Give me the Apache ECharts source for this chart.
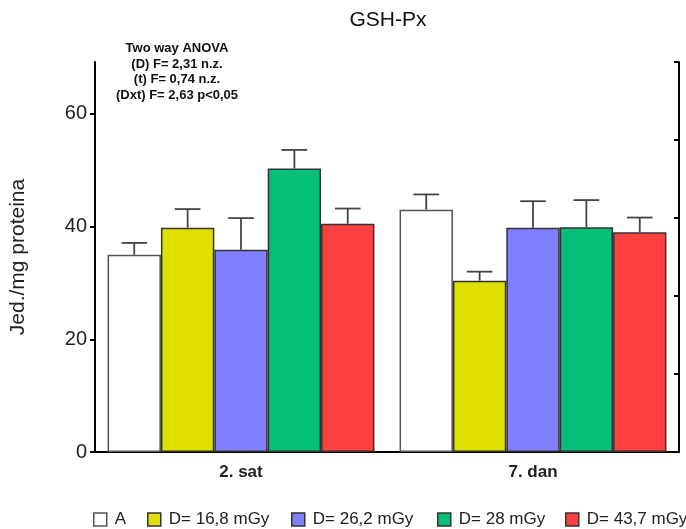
<!DOCTYPE html>
<html>
<head>
<meta charset="utf-8">
<script src="https://cdn.jsdelivr.net/npm/echarts@6/dist/echarts.min.js"></script>
<style>
  html, body { margin: 0; padding: 0; background: #fff; }
  #chart { width: 686px; height: 529px; }
</style>
</head>
<body>
<div id="chart"></div>
<script>
// Sampling times
const categories = ['2. sat', '7. dan'];

// Group names (control and irradiation doses)
const seriesNames = ['A', 'D= 16,8 mGy', 'D= 26,2 mGy', 'D= 28 mGy', 'D= 43,7 mGy'];

// GSH-Px activity, mean per group at each time point
const meanA    = [35.0, 43.0];
const mean168  = [39.8, 30.4];
const mean262  = [35.9, 39.8];
const mean28   = [50.3, 39.9];
const mean437  = [40.5, 39.0];

// Standard error (upper whisker length)
const semA     = [2.1, 2.7];
const sem168   = [3.3, 1.6];
const sem262   = [5.6, 4.7];
const sem28    = [3.3, 4.8];
const sem437   = [2.7, 2.6];

// Left axis tick labels
const yTicks = [0, 20, 40, 60];

const means = [meanA, mean168, mean262, mean28, mean437];
const sems  = [semA, sem168, sem262, sem28, sem437];
const fills = ['#ffffff', '#dfdf00', '#8080ff', '#05bf78', '#ff4040'];
const edges = ['#555555', '#333333', '#333333', '#333333', '#333333'];

const FONT = '"Liberation Sans", Arial, sans-serif';
const CAT_GAP = 0.086;   // fraction of a category band left empty
const YMAX = 69.2;

const barSeries = seriesNames.map((name, i) => ({
  name: name,
  type: 'bar',
  data: means[i],
  barGap: '0%',
  barCategoryGap: (CAT_GAP * 100) + '%',
  itemStyle: { color: fills[i], borderColor: edges[i], borderWidth: 1.5 },
  z: 2
}));

// Whiskers: one item per bar -> [category index, mean, sem, series index]
const errData = [];
means.forEach((arr, s) => arr.forEach((m, c) => errData.push([c, m, sems[s][c], s])));

const errSeries = {
  type: 'custom',
  name: 'sem',
  data: errData,
  z: 3,
  silent: true,
  encode: { x: 0, y: 1 },
  renderItem: function (params, api) {
    const c = api.value(0), m = api.value(1), e = api.value(2), s = api.value(3);
    const band = api.size([1, 0])[0];
    const bw = band * (1 - CAT_GAP) / seriesNames.length;
    const base = api.coord([c, m]);
    const top = api.coord([c, m + e]);
    const cx = base[0] + (s - (seriesNames.length - 1) / 2) * bw;
    const half = bw * 0.24;
    const style = { stroke: '#444444', lineWidth: 1.8, fill: null };
    return {
      type: 'group',
      children: [
        { type: 'line', shape: { x1: cx, y1: base[1], x2: cx, y2: top[1] }, style: style },
        { type: 'line', shape: { x1: cx - half, y1: top[1], x2: cx + half, y2: top[1] }, style: style }
      ]
    };
  }
};

// One legend block per group so each entry sits at its own place
const legendLeft = [93, 147, 291, 437, 565];
const legends = seriesNames.map((name, i) => ({
  data: [name],
  left: legendLeft[i],
  top: 511,
  padding: 0,
  itemWidth: 13,
  itemHeight: 13,
  icon: 'rect',
  itemStyle: { borderWidth: 1.5 },
  textStyle: { fontFamily: FONT, fontSize: 17, color: '#222', padding: [0, 0, 0, 3] }
}));

const chart = echarts.init(document.getElementById('chart'), null, { renderer: 'canvas' });

chart.setOption({
  animation: false,
  backgroundColor: '#ffffff',
  title: {
    text: 'GSH-Px',
    left: 388,
    top: 10,
    padding: 0,
    textAlign: 'center',
    textStyle: { fontFamily: FONT, fontSize: 21, fontWeight: 'normal', color: '#111' }
  },
  graphic: [{
    type: 'text',
    x: 177,
    y: 41,
    style: {
      text: 'Two way ANOVA\n(D) F= 2,31 n.z.\n(t) F= 0,74 n.z.\n(Dxt) F= 2,63 p<0,05',
      align: 'center',
      textAlign: 'center',
      verticalAlign: 'top',
      textVerticalAlign: 'top',
      font: 'bold 13px ' + FONT,
      lineHeight: 15.5,
      fill: '#111'
    }
  }],
  legend: legends,
  grid: { left: 95, right: 7, top: 62, bottom: 77, containLabel: false, outerBoundsMode: 'none' },
  xAxis: {
    type: 'category',
    data: categories,
    axisLine: { lineStyle: { color: '#000', width: 2 } },
    axisTick: { show: false },
    axisLabel: { margin: 12, fontFamily: FONT, fontSize: 17, fontWeight: 'bold', color: '#222' }
  },
  yAxis: [{
    type: 'value',
    min: 0,
    max: YMAX,
    interval: 20,
    name: 'Jed./mg proteina',
    nameLocation: 'middle',
    nameGap: 66,
    nameRotate: 90,
    nameTextStyle: { fontFamily: FONT, fontSize: 21, color: '#222' },
    axisLine: { show: true, lineStyle: { color: '#000', width: 2 } },
    axisTick: { show: true, length: 5, lineStyle: { color: '#000', width: 2 }, customValues: yTicks },
    axisLabel: { margin: 8, fontFamily: FONT, fontSize: 20, color: '#222', customValues: yTicks },
    splitLine: { show: false }
  }, {
    type: 'value',
    position: 'right',
    min: 0,
    max: YMAX,
    interval: YMAX / 5,
    axisLine: { show: true, lineStyle: { color: '#000', width: 2 } },
    axisTick: { show: true, inside: true, length: 5, lineStyle: { color: '#000', width: 2 } },
    axisLabel: { show: false },
    splitLine: { show: false }
  }],
  series: barSeries.concat([errSeries])
});
</script>
</body>
</html>
